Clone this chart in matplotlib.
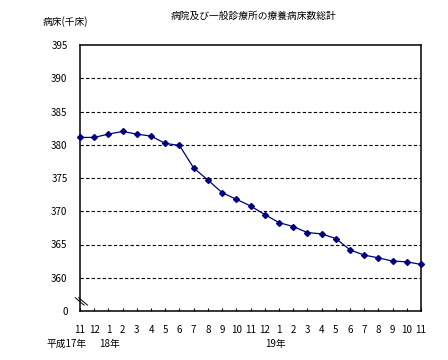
import matplotlib
matplotlib.use("Agg")
import matplotlib.pyplot as plt

plt.rcParams['font.family'] = ['Noto Sans CJK JP', 'DejaVu Sans']

# 月ラベル (平成17年11月 〜 平成19年11月)
months = ['11', '12', '1', '2', '3', '4', '5', '6', '7', '8', '9', '10', '11', '12',
          '1', '2', '3', '4', '5', '6', '7', '8', '9', '10', '11']
# 療養病床数 (千床)
beds = [381.1, 381.1, 381.6, 382.0, 381.6, 381.3, 380.2, 379.9, 376.5, 374.7,
        372.8, 371.8, 370.8, 369.5, 368.3, 367.7, 366.8, 366.6, 365.9, 364.2,
        363.4, 363.0, 362.5, 362.4, 362.0]
yticks = [355, 360, 365, 370, 375, 380, 385, 390, 395]
ytick_labels = ['0', '360', '365', '370', '375', '380', '385', '390', '395']
year_labels = ['平成17年', '18年', '19年']
year_pos = [-0.95, 2.1, 13.75]

fig = plt.figure(figsize=(4.48, 3.6), dpi=100)
ax = fig.add_axes([80 / 448, 49 / 360, 341 / 448, 266 / 360])

x = list(range(len(months)))
ax.plot(x, beds, color='#000080', lw=0.9, marker='D', ms=3.0, clip_on=False, zorder=3)

for g in yticks[1:-1]:
    ax.axhline(g, color='black', lw=0.8, ls=(0, (3, 2)), zorder=1)

ax.set_xlim(0, len(months) - 1)
ax.set_ylim(355, 395)
ax.set_yticks(yticks)
ax.set_yticklabels(ytick_labels, fontsize=7)
ax.set_xticks(x)
ax.set_xticklabels(months, fontsize=7)
ax.tick_params(axis='y', length=0, pad=9)
ax.tick_params(axis='x', direction='in', length=2.5, pad=10)
for s in ax.spines.values():
    s.set_linewidth(1.1)

for lab, p in zip(year_labels, year_pos):
    ax.text(p, -0.125, lab, transform=ax.get_xaxis_transform(), ha='center', va='center', fontsize=7)

# 軸の省略記号
for dx in (0, 0.01):
    ax.plot([-0.014 + dx, 0.012 + dx], [0.05, 0.022], transform=ax.transAxes,
            color='black', lw=0.7, clip_on=False)

fig.text(0.565, 0.955, '病院及び一般診療所の療養病床数総計', ha='center', va='center', fontsize=7)
fig.text(0.145, 0.94, '病床(千床)', ha='center', va='center', fontsize=7)

fig.savefig('out.png', dpi=100)
